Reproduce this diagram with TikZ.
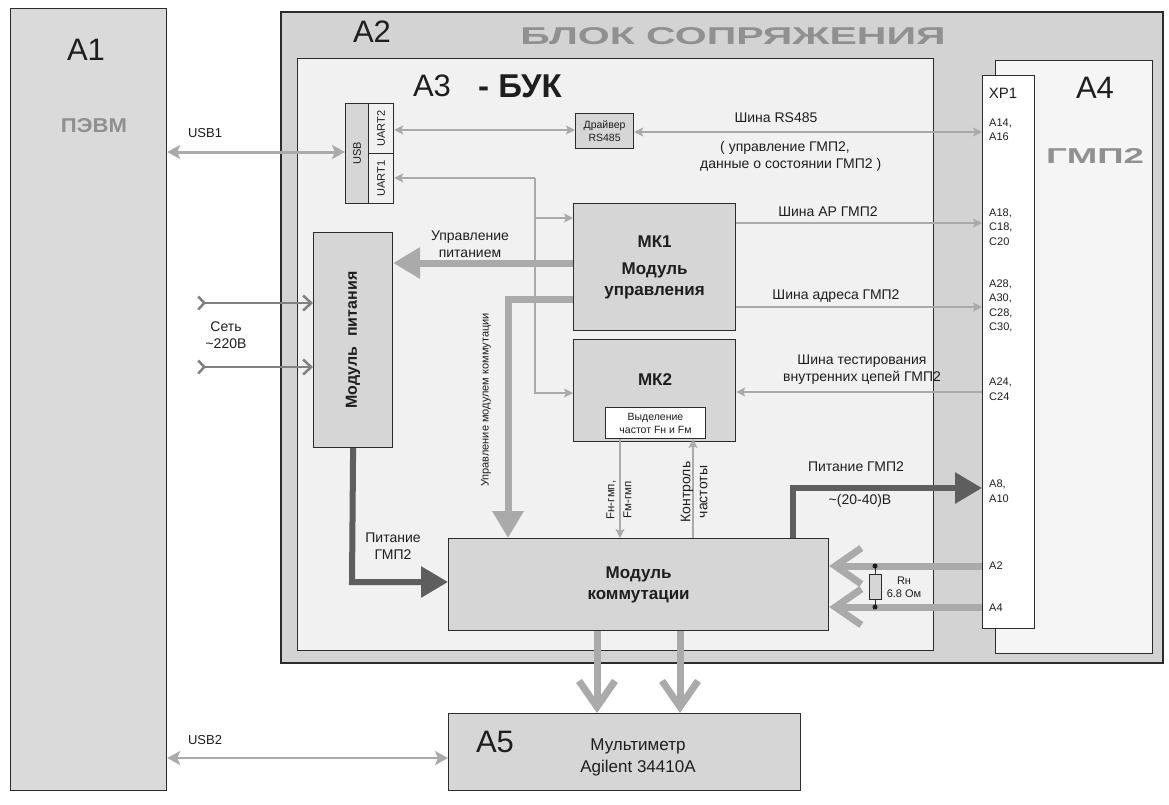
\documentclass[tikz,border=0pt]{standalone}
\usepackage{fontspec}
\usepackage{graphicx}
\setmainfont{Liberation Sans}
\usetikzlibrary{arrows.meta,calc}
\definecolor{lg}{HTML}{AAAAAA}
\definecolor{dg}{HTML}{5E5E5E}
\definecolor{bd}{HTML}{2C2C2C}
\definecolor{tx}{HTML}{1E1E1E}
\definecolor{tg}{HTML}{909090}
\definecolor{fA1}{HTML}{DADADA}
\definecolor{fA2}{HTML}{D3D3D3}
\definecolor{fA3}{HTML}{F1F1F1}
\definecolor{fA4}{HTML}{F5F5F5}
\definecolor{fB}{HTML}{D6D6D6}
\newcommand\fz[2]{\fontsize{#1}{#2}\selectfont}
\begin{document}
\begin{tikzpicture}[x=1pt,y=-1pt,
  box/.style={draw=bd,line width=1.2pt,inner sep=0pt,anchor=north west},
  thinl/.style={draw=lg,line width=1.8pt},
  tarr/.style={thinl,-{Stealth[length=9pt,width=9pt,inset=2pt]}},
  tdarr/.style={thinl,{Stealth[length=9pt,width=9pt,inset=2pt]}-{Stealth[length=9pt,width=9pt,inset=2pt]}},
  usbarr/.style={draw=lg,line width=3pt,{Stealth[length=13pt,width=14pt,inset=3pt]}-{Stealth[length=13pt,width=14pt,inset=3pt]}},
  fat/.style={draw=lg,line width=7pt,-{Triangle[length=27pt,width=30pt]}},
  dark/.style={draw=dg,line width=6pt,-{Triangle[length=27pt,width=30pt]}},
  vee/.style={draw=lg,line width=7pt,-{Straight Barb[length=26pt,width=36pt]}},
  setarr/.style={draw=gray,line width=2.5pt,{Straight Barb[reversed,length=6pt,width=13pt]}-{Straight Barb[length=8pt,width=15pt]}},
  lbl/.style={text=tx,inner sep=0pt,align=center,font=\fz{14}{17}},
  pin/.style={text=tx,inner sep=0pt,align=left,anchor=west,font=\fz{11}{14.5}},
  big/.style={text=tx,inner sep=0pt,font=\fz{31}{36}},
]
\useasboundingbox (0,0) rectangle (1169,804);
\fill[white] (0,0) rectangle (1169,804);

% ---- frames
\node[box,fill=fA1,minimum width=156pt,minimum height=782pt] (a1) at (10,8) {};
\node[big] (a1t) at (86,50) {A1};
\node[text=tg,inner sep=0pt] (pevm) at (94,126) {\resizebox{66pt}{14pt}{\bfseries ПЭВМ}};

\node[box,line width=2pt,fill=fA2,minimum width=882pt,minimum height=651pt] (a2) at (280,11) {};
\node[big] (a2t) at (372,32) {A2};
\node[text=tg,inner sep=0pt] (blok) at (733,36) {\resizebox{425pt}{17pt}{\bfseries БЛОК СОПРЯЖЕНИЯ}};

\node[box,fill=fA3,minimum width=636pt,minimum height=592pt] (a3) at (297,58) {};
\node[big] (a3t) at (432,86) {A3};
\node[text=tx,inner sep=0pt,font=\fz{33}{38}\bfseries] (buk) at (520,86) {- БУК};

\node[box,fill=fA4,minimum width=157pt,minimum height=593pt] (a4) at (995,60) {};
\node[big] (a4t) at (1095,88) {A4};
\node[text=tg,inner sep=0pt] (gmp) at (1095,156) {\resizebox{98pt}{15pt}{\bfseries ГМП2}};

\node[box,fill=white,minimum width=52pt,minimum height=553pt] (xp1) at (982,75) {};
\node[text=tx,inner sep=0pt,font=\fz{15}{18}] (xp1t) at (1003,93) {XP1};
\node[pin] (p1) at (989,130) {A14,\\A16};
\node[pin] (p2) at (989,227) {A18,\\C18,\\C20};
\node[pin] (p3) at (989,306) {A28,\\A30,\\C28,\\C30,};
\node[pin] (p4) at (989,389) {A24,\\C24};
\node[pin] (p5) at (989,491) {A8,\\A10};
\node[pin] (p6) at (989,566) {A2};
\node[pin] (p7) at (989,608) {A4};

% ---- blocks
\node[box,fill=fB,minimum width=23pt,minimum height=100pt] (usb) at (345,103) {};
\node[box,fill=fA3,minimum width=25pt,minimum height=50pt] (uart2) at (368,103) {};
\node[box,fill=fA3,minimum width=25pt,minimum height=50pt] (uart1) at (368,153) {};
\node[rotate=90,text=tx,inner sep=0pt,font=\fz{11}{13}] at (usb.center) {USB};
\node[rotate=90,text=tx,inner sep=0pt,font=\fz{11}{13}] at (uart2.center) {UART2};
\node[rotate=90,text=tx,inner sep=0pt,font=\fz{11}{13}] at (uart1.center) {UART1};

\node[box,fill=fB,minimum width=58pt,minimum height=35pt,align=center,font=\fz{10.5}{13},text=tx] (drv) at (575,113) {Драйвер\\RS485};

\node[box,fill=fB,minimum width=162pt,minimum height=127pt,align=center,font=\fz{17}{21}\bfseries,text=tx] (mk1) at (573,203) {МК1\\[6pt]Модуль\\управления};

\node[box,fill=fB,minimum width=162pt,minimum height=102pt] (mk2) at (573,339) {};
\node[text=tx,inner sep=0pt,font=\fz{17}{21}\bfseries] (mk2t) at (655,380) {МК2};
\node[box,fill=white,line width=1pt,minimum width=100pt,minimum height=31pt,align=center,font=\fz{10.5}{13},text=tx] (sel) at (605,407) {Выделение\\частот Fн и Fм};

\node[box,fill=fB,minimum width=79pt,minimum height=215pt] (pwr) at (313,232) {};
\node[rotate=90,text=tx,inner sep=0pt,font=\fz{16}{19}\bfseries] (pwrt) at (pwr.center) {Модуль\hspace{10pt}питания};

\node[box,fill=fB,minimum width=380pt,minimum height=92pt,align=center,font=\fz{17}{21}\bfseries,text=tx] (kom) at (448,538) {Модуль\\коммутации};

\node[box,fill=fB,minimum width=352pt,minimum height=77pt] (a5) at (448,713) {};
\node[big] (a5t) at (495,742) {A5};
\node[text=tx,inner sep=0pt,align=center,font=\fz{17}{22}] (a5d) at (638,757) {Мультиметр\\Agilent 34410A};

% ---- connectors
\draw[usbarr] (a1.east |- 0,152) -- (usb.west |- 0,152);
\node[lbl,font=\fz{13}{15}] at (205,133) {USB1};
\draw[usbarr,line width=2.5pt] (a1.east |- 0,758) -- (a5.west |- 0,758);
\node[lbl,font=\fz{13}{15}] at (205,740) {USB2};

\draw[tdarr] (uart2.east |- 0,130) -- (drv.west |- 0,130);
\draw[tdarr] (drv.east |- 0,132) -- (xp1.west |- 0,132);
\node[lbl] at (776,118) {Шина RS485};
\node[lbl,align=left,anchor=west] at (700,156) {\hspace{20pt}( управление ГМП2,\\данные о состоянии ГМП2 )};

% thick control arrows
\draw[fat] (mk1.west |- 0,263) -- (pwr.east |- 0,263);
\node[lbl] at (470,244) {Управление\\питанием};
\coordinate (c1) at (508,299);
\draw[fat] (mk1.west |- c1) -- (c1) -- (c1 |- kom.north);
\node[lbl,rotate=90,font=\fz{11}{13}] at (486,400) {Управление модулем коммутации};

% UART1 bus
\coordinate (j1) at (535,178);
\coordinate (j2) at (535,393);
\draw[tarr] (j1) -- (uart1.east |- j1);
\draw[tarr] (j1) -- (j2) -- (mk2.west |- j2);
\draw[tarr] (j1 |- 0,218) -- (mk1.west |- 0,218);

% buses to XP1
\draw[tarr,line width=1.5pt] (mk1.east |- 0,223) -- (xp1.west |- 0,223);
\node[lbl] at (828,212) {Шина АР ГМП2};
\draw[tarr,line width=2.2pt] (mk1.east |- 0,307) -- (xp1.west |- 0,307);
\node[lbl] at (836,296) {Шина адреса ГМП2};
\draw[tarr,line width=2.2pt] (xp1.west |- 0,392) -- (mk2.east |- 0,392);
\node[lbl] at (862,370) {Шина тестирования\\внутренних цепей ГМП2};

% power lines
\coordinate (c2) at (352,582);
\draw[dark] (pwr.south) -- (c2) -- (kom.west |- c2);
\node[lbl] at (393,546) {Питание\\ГМП2};
\coordinate (c3) at (793,488);
\draw[dark] (c3 |- kom.north) -- (c3) -- (xp1.west |- c3);
\node[lbl] at (856,467) {Питание ГМП2};
\node[lbl] at (860,501) {\textasciitilde(20-40)В};

% MK2 <-> kom
\draw[tarr,line width=1.4pt] (sel.south -| 620,0) -- (kom.north -| 620,0);
\node[lbl,rotate=90,font=\fz{11.5}{17}] at (619,500) {Fн-гмп,\\Fм-гмп};
\draw[tarr,line width=1.4pt] (kom.north -| 693,0) -- (sel.south -| 693,0);
\node[lbl,rotate=90,font=\fz{14}{17}] at (694,492) {Контроль\\частоты};

% A2/A4 lines with resistor
\draw[vee] (xp1.west |- 0,566) -- (kom.east |- 0,566);
\draw[vee] (xp1.west |- 0,607) -- (kom.east |- 0,607);
\coordinate (r1) at (875,566);
\coordinate (r2) at (875,607);
\node[draw=bd,line width=1pt,fill=fB,minimum width=12pt,minimum height=25pt,inner sep=0pt] (rn) at (875,587) {};
\draw[bd,line width=1pt] (r1) -- (rn.north) (rn.south) -- (r2);
\fill[tx] (r1) circle (2.5) (r2) circle (2.5);
\node[lbl,font=\fz{11}{13}] at (904,587) {Rн\\6.8 Ом};

% to multimeter
\draw[vee] (kom.south -| 597,0) -- (a5.north -| 597,0);
\draw[vee] (kom.south -| 680,0) -- (a5.north -| 680,0);

% mains
\coordinate (s1) at (197,303);
\coordinate (s2) at (197,367);
\draw[setarr] (s1) -- (pwr.west |- s1);
\draw[setarr] (s2) -- (pwr.west |- s2);
\node[lbl] at (226,335) {Сеть\\\textasciitilde220В};
\end{tikzpicture}
\end{document}
